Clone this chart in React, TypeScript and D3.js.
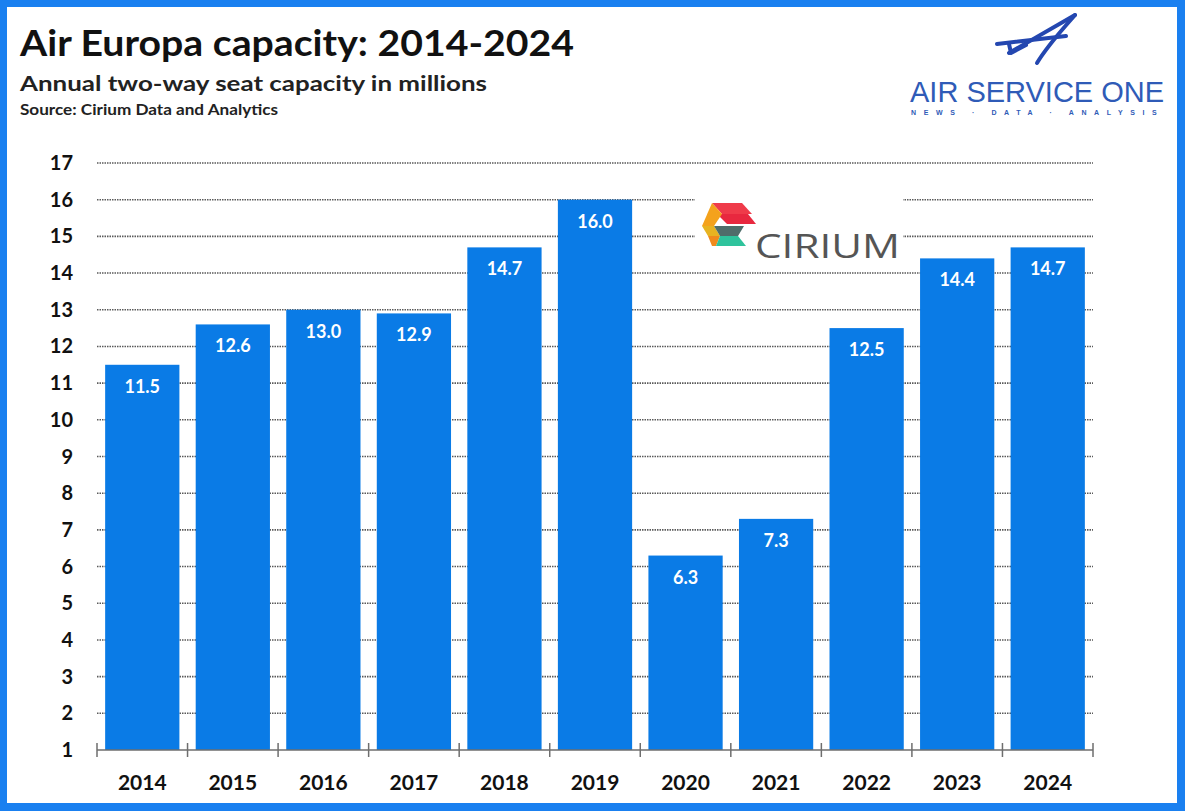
import React from "react";
import * as d3 from "d3";

const years = ["2014", "2015", "2016", "2017", "2018", "2019", "2020", "2021", "2022", "2023", "2024"];
const capacity = [11.5, 12.6, 13.0, 12.9, 14.7, 16.0, 6.3, 7.3, 12.5, 14.4, 14.7];
const yTicks = [1, 2, 3, 4, 5, 6, 7, 8, 9, 10, 11, 12, 13, 14, 15, 16, 17];

const W = 1185;
const H = 811;
const BLUE = "#0a7be6";
const FONT = "Lato, 'Open Sans', sans-serif";

export default function App() {
  const x = d3.scaleBand<string>().domain(years).range([97, 1093]).paddingInner(0.18).paddingOuter(0.09);
  const y = d3.scaleLinear().domain([1, 17]).range([750, 163]);
  const step = x.step();
  const off = step * 0.09;
  const boundaries = years.map((d) => (x(d) as number) - off).concat([(x(years[years.length - 1]) as number) - off + step]);

  return (
    <div style={{ position: "absolute", left: 0, top: 0 }}>
      <svg width={W} height={H} style={{ display: "block" }}>
        <rect x={0} y={0} width={W} height={H} fill="#1a80f0" />
        <rect x={7} y={7} width={1170} height={796} fill="#ffffff" />

        {/* Titles */}
        <text x={20} y={56} fontFamily={FONT} fontWeight={700} fontSize={37} fill="#111" textLength={554} lengthAdjust="spacingAndGlyphs">
          Air Europa capacity: 2014-2024
        </text>
        <text x={20} y={91} fontFamily={FONT} fontWeight={700} fontSize={21} fill="#222" textLength={467} lengthAdjust="spacingAndGlyphs">
          Annual two-way seat capacity in millions
        </text>
        <text x={20} y={115} fontFamily={FONT} fontWeight={700} fontSize={15} fill="#222" textLength={258} lengthAdjust="spacingAndGlyphs">
          Source: Cirium Data and Analytics
        </text>

        {/* Air Service One logo */}
        <g stroke="#2447b0" strokeWidth={4} fill="none" strokeLinecap="round" strokeLinejoin="round">
          <path d="M1009 53 L1075 15" />
          <path d="M1075 15 C1062 30 1048 45 1037 63" />
          <path d="M997 44 L1066 36" />
          <path d="M1009 44 L1011 53 L1026 45" />
        </g>
        <text x={910} y={102} fontFamily="'Liberation Sans', Arial, sans-serif" fontSize={29} fill="#2f5bb7">
          AIR SERVICE ONE
        </text>
        <text x={911} y={115} fontFamily="'Liberation Sans', Arial, sans-serif" fontWeight={700} fontSize={7} fill="#2f5bb7" letterSpacing={7.6}>
          NEWS · DATA · ANALYSIS
        </text>

        {/* Gridlines */}
        {yTicks.filter((t) => t > 1).map((t) => (
          <line key={t} x1={97} x2={1093} y1={y(t)} y2={y(t)} stroke="#5a5a5a" strokeWidth={1.6} strokeDasharray="1.5 1" />
        ))}

        {/* Cirium logo */}
        <rect x={695} y={194} width={208} height={72} fill="#ffffff" />
        <g>
          <polygon points="712,203 742,203 752,214 722,214" fill="#ef3b4a" />
          <polygon points="717,214 748,214 756,224 727,224" fill="#e8283f" />
          <polygon points="712,203 722,214 714,226 702,226" fill="#f4a21c" />
          <polygon points="702,226 714,226 720,236 708,236" fill="#e7b321" />
          <polygon points="714,226 744,226 738,236 720,236" fill="#4f6d6a" />
          <polygon points="708,236 720,236 716,246 712,246" fill="#f08a1c" />
          <polygon points="720,236 738,236 746,246 716,246" fill="#2fc39c" />
        </g>
        <text x={755} y={258} fontFamily="'Open Sans', sans-serif" fontWeight={400} fontSize={33} fill="#555555" textLength={145} lengthAdjust="spacingAndGlyphs">
          CIRIUM
        </text>

        {/* Bars */}
        {years.map((d, i) => (
          <rect key={d} x={x(d)} y={y(capacity[i])} width={x.bandwidth()} height={y(1) - y(capacity[i])} fill={BLUE} />
        ))}
        {years.map((d, i) => (
          <text key={"l" + d} x={(x(d) as number) + x.bandwidth() / 2} y={y(capacity[i]) + 28} textAnchor="middle" fontFamily={FONT} fontWeight={700} fontSize={18} fill="#ffffff">
            {capacity[i].toFixed(1)}
          </text>
        ))}

        {/* X axis */}
        <line x1={97} x2={1093} y1={750} y2={750} stroke="#6e6e6e" strokeWidth={1.5} />
        {boundaries.map((b, i) => (
          <line key={"t" + i} x1={b} x2={b} y1={743} y2={757} stroke="#6e6e6e" strokeWidth={1.5} />
        ))}
        {years.map((d) => (
          <text key={"x" + d} x={(x(d) as number) + x.bandwidth() / 2} y={790} textAnchor="middle" fontFamily={FONT} fontWeight={700} fontSize={21} fill="#111">
            {d}
          </text>
        ))}

        {/* Y labels */}
        {yTicks.map((t) => (
          <text key={"y" + t} x={73} y={y(t) + 7} textAnchor="end" fontFamily={FONT} fontWeight={700} fontSize={20} fill="#111">
            {t}
          </text>
        ))}
      </svg>
    </div>
  );
}
